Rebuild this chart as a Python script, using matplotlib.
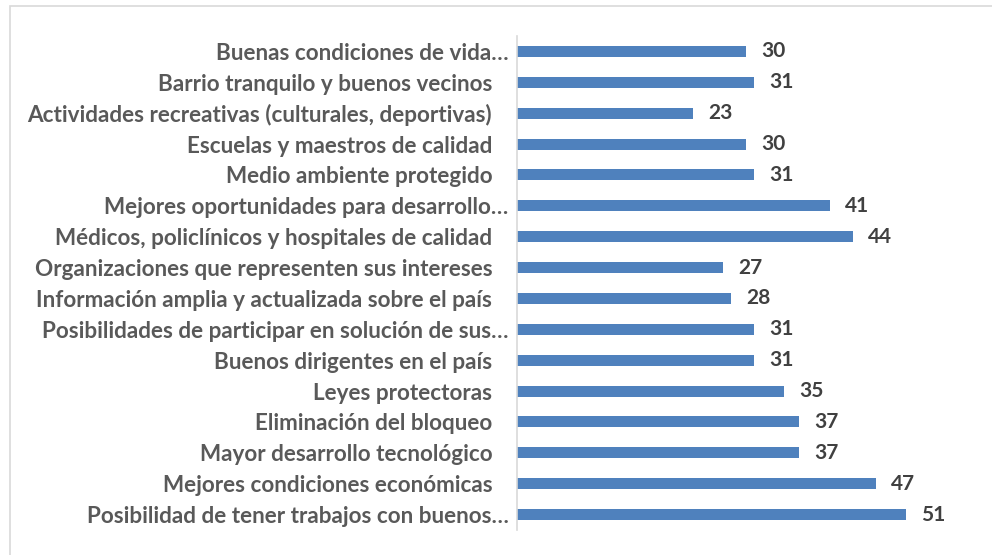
import matplotlib.pyplot as plt
from matplotlib.patches import Rectangle

# categories top -> bottom as shown in the chart
categorias = [
    "Buenas condiciones de vida…",
    "Barrio tranquilo y buenos vecinos",
    "Actividades recreativas (culturales, deportivas)",
    "Escuelas y maestros de calidad",
    "Medio ambiente protegido",
    "Mejores oportunidades para desarrollo…",
    "Médicos, policlínicos y hospitales de calidad",
    "Organizaciones que representen sus intereses",
    "Información amplia y actualizada sobre el país",
    "Posibilidades de participar en solución de sus…",
    "Buenos dirigentes en el país",
    "Leyes protectoras",
    "Eliminación del bloqueo",
    "Mayor desarrollo tecnológico",
    "Mejores condiciones económicas",
    "Posibilidad de tener trabajos con buenos…",
]
valores = [30, 31, 23, 30, 31, 41, 44, 27, 28, 31, 31, 35, 37, 37, 47, 51]

# labels without ellipsis have trailing space in the original
etiquetas = [c if c.endswith("…") else c + "   " for c in categorias]

plt.rcParams['font.family'] = ['Lato', 'DejaVu Sans']

fig = plt.figure(figsize=(9.92, 5.55), dpi=100)
fig.patches.append(Rectangle((10/992, -0.1), 1.2, 1.1 - 6/555,
                             transform=fig.transFigure, fill=False,
                             edgecolor='#d9d9d9', linewidth=1.2))

ax = fig.add_axes([517/992, 25/555, 458/992, 494/555])
y = list(range(len(categorias)))
bars = ax.barh(y, valores, height=0.36, color='#4f81bd')
ax.set_ylim(-0.5, len(categorias) - 0.5)
ax.invert_yaxis()
ax.set_xlim(0, 60)

ax.set_yticks(y)
ax.set_yticklabels(etiquetas, fontsize=16.2, fontweight='bold', color='#595959')
ax.tick_params(axis='y', length=0, pad=6)
ax.set_xticks([])
for s in ['top', 'right', 'bottom']:
    ax.spines[s].set_visible(False)
ax.spines['left'].set_color('#d9d9d9')
ax.spines['left'].set_linewidth(1.2)

ax.bar_label(bars, padding=11, fontsize=15, fontweight='bold', color='#404040')

fig.savefig('out.png', dpi=100)
